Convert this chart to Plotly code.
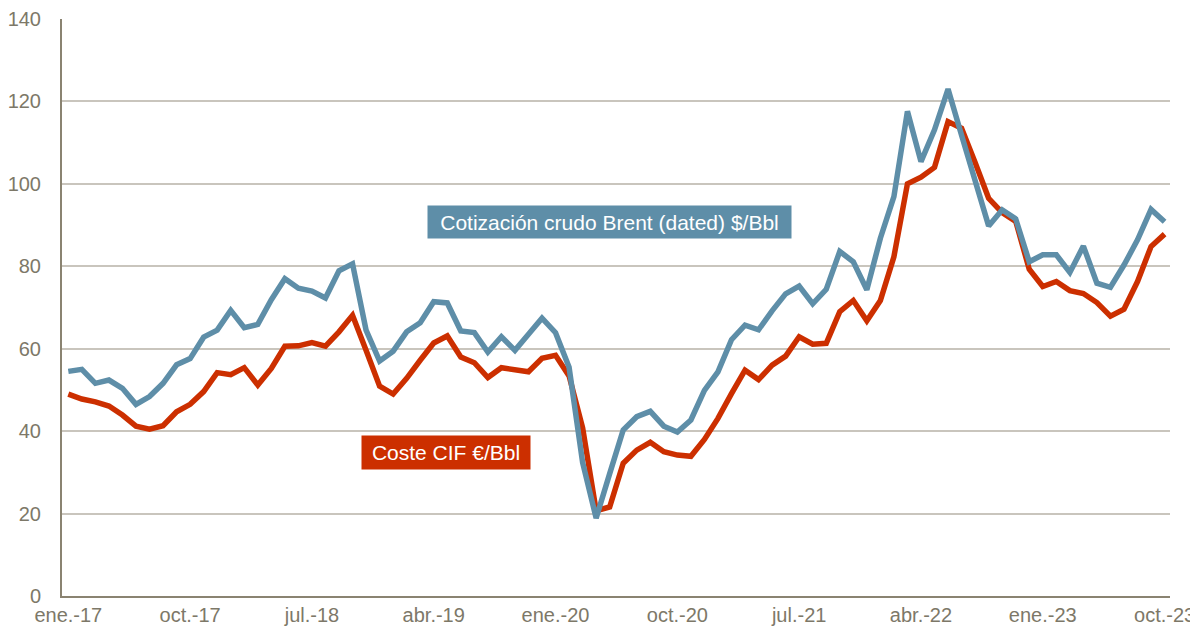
import plotly.graph_objects as go

# Monthly series, ene.-17 .. oct.-23 (82 months)
months = list(range(82))

brent_usd = [
    54.5, 55.0, 51.6, 52.4, 50.4, 46.5, 48.4, 51.6, 56.1, 57.6,
    62.8, 64.5, 69.3, 65.1, 65.9, 71.9, 77.0, 74.7, 74.0, 72.3,
    78.9, 80.6, 64.5, 57.0, 59.4, 64.1, 66.3, 71.4, 71.1, 64.3,
    63.9, 59.2, 62.9, 59.6, 63.5, 67.4, 63.9, 55.5, 32.4, 18.9,
    29.7, 40.3, 43.5, 44.8, 41.2, 39.8, 42.7, 49.9, 54.4, 62.2,
    65.7, 64.6, 69.2, 73.3, 75.2, 70.9, 74.4, 83.6, 81.1, 74.3,
    86.8, 96.9, 117.6, 105.4, 113.1, 123.0, 111.8, 101.0, 89.8, 93.7,
    91.5, 81.1, 82.8, 82.8, 78.5, 84.9, 75.9, 74.9, 80.3, 86.4,
    93.8, 90.8,
]

coste_cif_eur = [
    49.0, 47.8, 47.1, 46.1, 43.9, 41.2, 40.5, 41.3, 44.7, 46.5,
    49.6, 54.2, 53.7, 55.4, 51.2, 55.2, 60.6, 60.7, 61.5, 60.6,
    64.1, 68.1, 59.6, 50.9, 49.0, 52.8, 57.2, 61.4, 63.1, 58.0,
    56.6, 53.0, 55.4, 54.8, 54.4, 57.7, 58.4, 53.4, 40.8, 20.7,
    21.6, 32.2, 35.4, 37.3, 35.0, 34.2, 33.9, 38.0, 43.1, 49.1,
    54.8, 52.5, 56.0, 58.2, 62.9, 61.1, 61.3, 69.0, 71.7, 66.8,
    71.7, 82.3, 100.0, 101.6, 104.0, 115.1, 113.5, 105.2, 96.5, 93.0,
    90.9, 79.3, 75.1, 76.3, 74.1, 73.4, 71.2, 67.9, 69.6, 76.3,
    84.8, 87.8,
]

tick_positions = [0, 9, 18, 27, 36, 45, 54, 63, 72, 81]
tick_labels = ["ene.-17", "oct.-17", "jul.-18", "abr.-19", "ene.-20",
               "oct.-20", "jul.-21", "abr.-22", "ene.-23", "oct.-23"]
y_ticks = [0, 20, 40, 60, 80, 100, 120, 140]

label_brent = "Cotización crudo Brent (dated) $/Bbl"
label_cif = "Coste CIF €/Bbl"

BLUE = "#5e8ea8"
RED = "#cc2f00"
AXIS = "#8a8371"
TICKC = "#7d7868"
GRID = "#c9c5bd"
FONT = "Arial, Liberation Sans, sans-serif"

fig = go.Figure()
fig.add_trace(go.Scatter(x=months, y=coste_cif_eur, mode="lines",
                         line=dict(color=RED, width=5.5), name=label_cif))
fig.add_trace(go.Scatter(x=months, y=brent_usd, mode="lines",
                         line=dict(color=BLUE, width=5.5), name=label_brent))

fig.add_annotation(x=40, y=90.7, xref="x", yref="y", text=label_brent,
                   showarrow=False, bgcolor=BLUE, width=363, height=32,
                   borderpad=0, font=dict(family=FONT, size=21, color="white"))
fig.add_annotation(x=27.9, y=34.9, xref="x", yref="y", text=label_cif,
                   showarrow=False, bgcolor=RED, width=168, height=33,
                   borderpad=0, font=dict(family=FONT, size=21, color="white"))

# The page body has an 8px margin, so the figure is 8px smaller and the
# margins are reduced accordingly on the left/top.
fig.update_layout(
    width=1190, height=622,
    margin=dict(l=54, r=28, t=10.5, b=34),
    paper_bgcolor="white", plot_bgcolor="white",
    showlegend=False,
    font=dict(family=FONT, size=20, color=TICKC),
)
fig.update_xaxes(
    range=[-0.466, 81.4], tickmode="array", tickvals=tick_positions,
    ticktext=tick_labels, showgrid=False, zeroline=False, automargin=False,
    showline=True, linecolor=AXIS, linewidth=2, ticks="",
    ticklabelstandoff=0, tickfont=dict(family=FONT, size=20, color=TICKC),
)
fig.update_yaxes(
    range=[0, 140], tickmode="array", tickvals=y_ticks, automargin=False,
    showgrid=True, gridcolor=GRID, gridwidth=1.5, zeroline=False,
    showline=True, linecolor=AXIS, linewidth=2, ticks="",
    ticklabelstandoff=15, tickfont=dict(family=FONT, size=20, color=TICKC),
)

fig.write_html("out.html")
